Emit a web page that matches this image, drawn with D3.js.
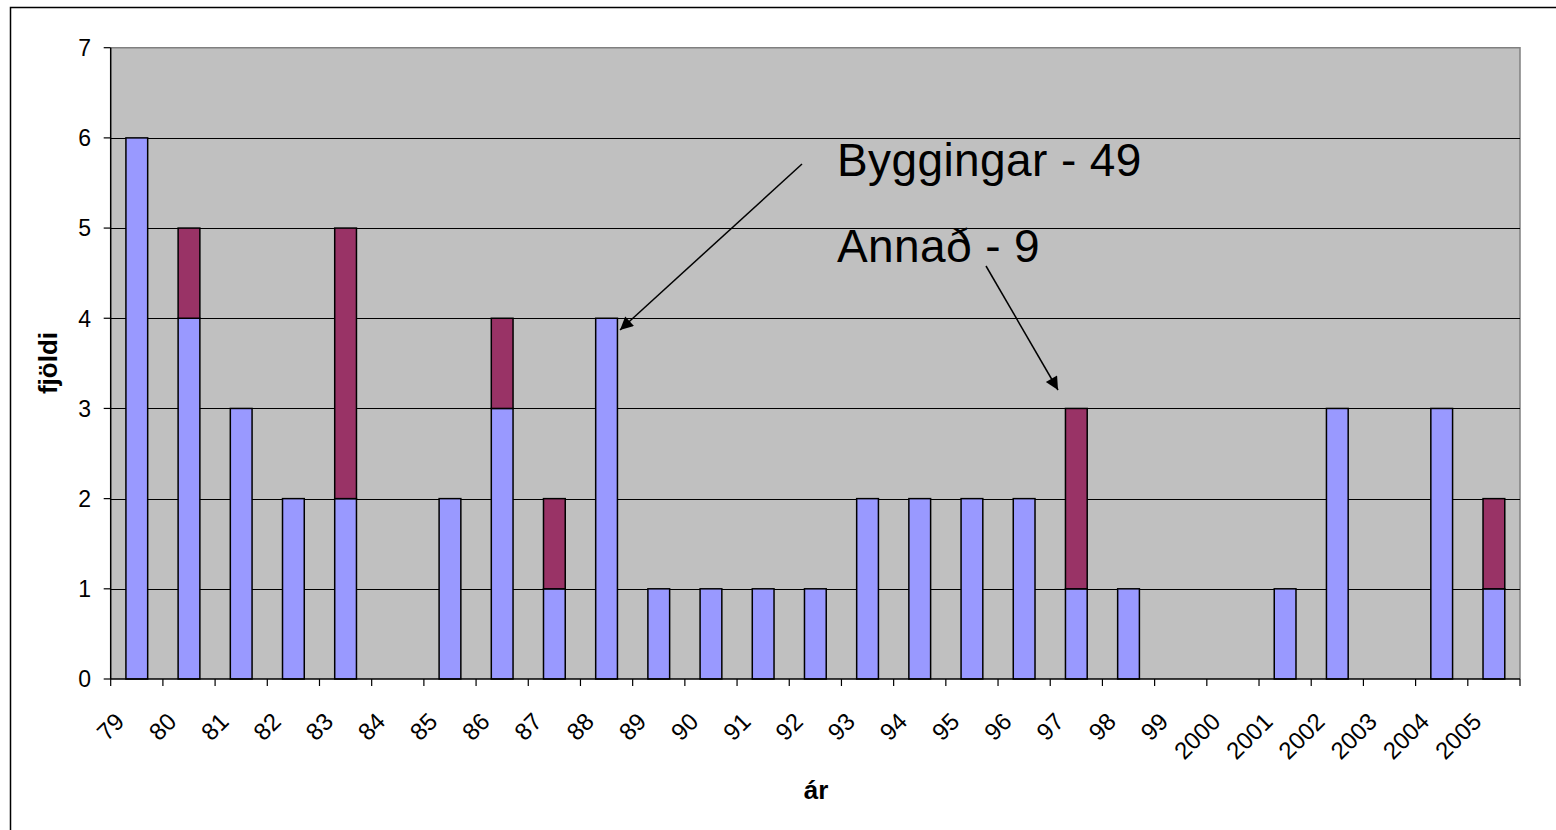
<!DOCTYPE html>
<html><head><meta charset="utf-8">
<script src="https://cdn.jsdelivr.net/npm/d3@7"></script>
<style>body{margin:0;background:#fff}svg{display:block}</style>
</head><body>
<svg id="c" width="1556" height="830"></svg>
<script>
const categories = ["79","80","81","82","83","84","85","86","87","88","89","90","91","92","93","94","95","96","97","98","99","2000","2001","2002","2003","2004","2005"];
const byggingar = [6,4,3,2,2,0,2,3,1,4,1,1,1,1,2,2,2,2,1,1,0,0,1,3,0,3,1];
const annad     = [0,1,0,0,3,0,0,1,1,0,0,0,0,0,0,0,0,0,2,0,0,0,0,0,0,0,1];
const yTicks = [0,1,2,3,4,5,6,7];
const annotations = [
  {text:"Byggingar - 49", from:[802,164], to:[620,330], tx:837, ty:176},
  {text:"Annað - 9", from:[986,266], to:[1058,390], tx:837, ty:262}
];

const svg = d3.select("#c");
const font = "Arial, 'Liberation Sans', sans-serif";
const L = 110.7, R = 1520, T = 47.7, B = 679;

svg.append("rect").attr("x",10.5).attr("y",7.5).attr("width",1560).attr("height",840)
  .attr("fill","#fff").attr("stroke","#000").attr("stroke-width",1.5);

const x = d3.scaleBand().domain(categories).range([L,R]).paddingInner(0).paddingOuter(0);
const y = d3.scaleLinear().domain([0,7]).range([B,T]);

svg.append("rect").attr("x",L).attr("y",T).attr("width",R-L).attr("height",B-T).attr("fill","#C0C0C0");
svg.append("path").attr("d",`M${L},${T}H${R}V${B}`).attr("fill","none").attr("stroke","#808080").attr("stroke-width",1.5);

svg.append("g").selectAll("line").data(yTicks.filter(d=>d>0&&d<7)).join("line")
  .attr("x1",L).attr("x2",R).attr("y1",d=>Math.round(y(d))+0.5).attr("y2",d=>Math.round(y(d))+0.5)
  .attr("stroke","#000").attr("stroke-width",1);

const series = categories.map((c,i)=>({c, b:byggingar[i], a:annad[i]}));
const bw = x.bandwidth()/2.4;
const g = svg.append("g");
series.forEach(d=>{
  const x0 = x(d.c) + (x.bandwidth()-bw)/2;
  if(d.b>0) g.append("rect").attr("x",x0).attr("y",y(d.b)).attr("width",bw).attr("height",y(0)-y(d.b))
    .attr("fill","#9999FF").attr("stroke","#000").attr("stroke-width",1.5);
  if(d.a>0) g.append("rect").attr("x",x0).attr("y",y(d.b+d.a)).attr("width",bw).attr("height",y(d.b)-y(d.b+d.a))
    .attr("fill","#993366").attr("stroke","#000").attr("stroke-width",1.5);
});

const ya = svg.append("g");
ya.append("line").attr("x1",L).attr("x2",L).attr("y1",T).attr("y2",B).attr("stroke","#000").attr("stroke-width",1.5);
ya.selectAll(".t").data(yTicks).join("line").attr("x1",L-7).attr("x2",L)
  .attr("y1",d=>y(d)).attr("y2",d=>y(d)).attr("stroke","#000").attr("stroke-width",1.2);
ya.selectAll("text").data(yTicks).join("text").attr("x",91).attr("y",d=>y(d)).attr("dy","0.36em")
  .attr("text-anchor","end").attr("font-family",font).attr("font-size",23).text(d=>d);

const xa = svg.append("g");
xa.append("line").attr("x1",L).attr("x2",R).attr("y1",B).attr("y2",B).attr("stroke","#000").attr("stroke-width",1.5);
const edges = categories.map(c=>x(c)).concat([R]);
xa.selectAll(".t").data(edges).join("line").attr("x1",d=>d).attr("x2",d=>d)
  .attr("y1",B).attr("y2",B+7).attr("stroke","#000").attr("stroke-width",1.2);
xa.selectAll("text").data(categories).join("text")
  .attr("transform",d=>`translate(${x(d)+x.bandwidth()/2-11},${723}) rotate(-45)`)
  .attr("text-anchor","end").attr("font-family",font).attr("font-size",24).text(d=>d);

svg.append("text").attr("transform","translate(57,363) rotate(-90)").attr("text-anchor","middle")
  .attr("font-family",font).attr("font-weight","bold").attr("font-size",26).text("fjöldi");
svg.append("text").attr("x",816).attr("y",799).attr("text-anchor","middle")
  .attr("font-family",font).attr("font-weight","bold").attr("font-size",26).text("ár");

const defs = svg.append("defs");
defs.append("marker").attr("id","ah").attr("viewBox","0 0 10 10").attr("refX",10).attr("refY",5)
  .attr("markerWidth",17).attr("markerHeight",13).attr("markerUnits","userSpaceOnUse").attr("orient","auto")
  .append("path").attr("d","M0,0L10,5L0,10Z").attr("fill","#000");
annotations.forEach(a=>{
  svg.append("line").attr("x1",a.from[0]).attr("y1",a.from[1]).attr("x2",a.to[0]).attr("y2",a.to[1])
    .attr("stroke","#000").attr("stroke-width",1.5).attr("marker-end","url(#ah)");
  svg.append("text").attr("x",a.tx).attr("y",a.ty).attr("font-family",font).attr("font-size",46)
    .attr("letter-spacing","0.4px").text(a.text);
});
</script>
</body></html>
